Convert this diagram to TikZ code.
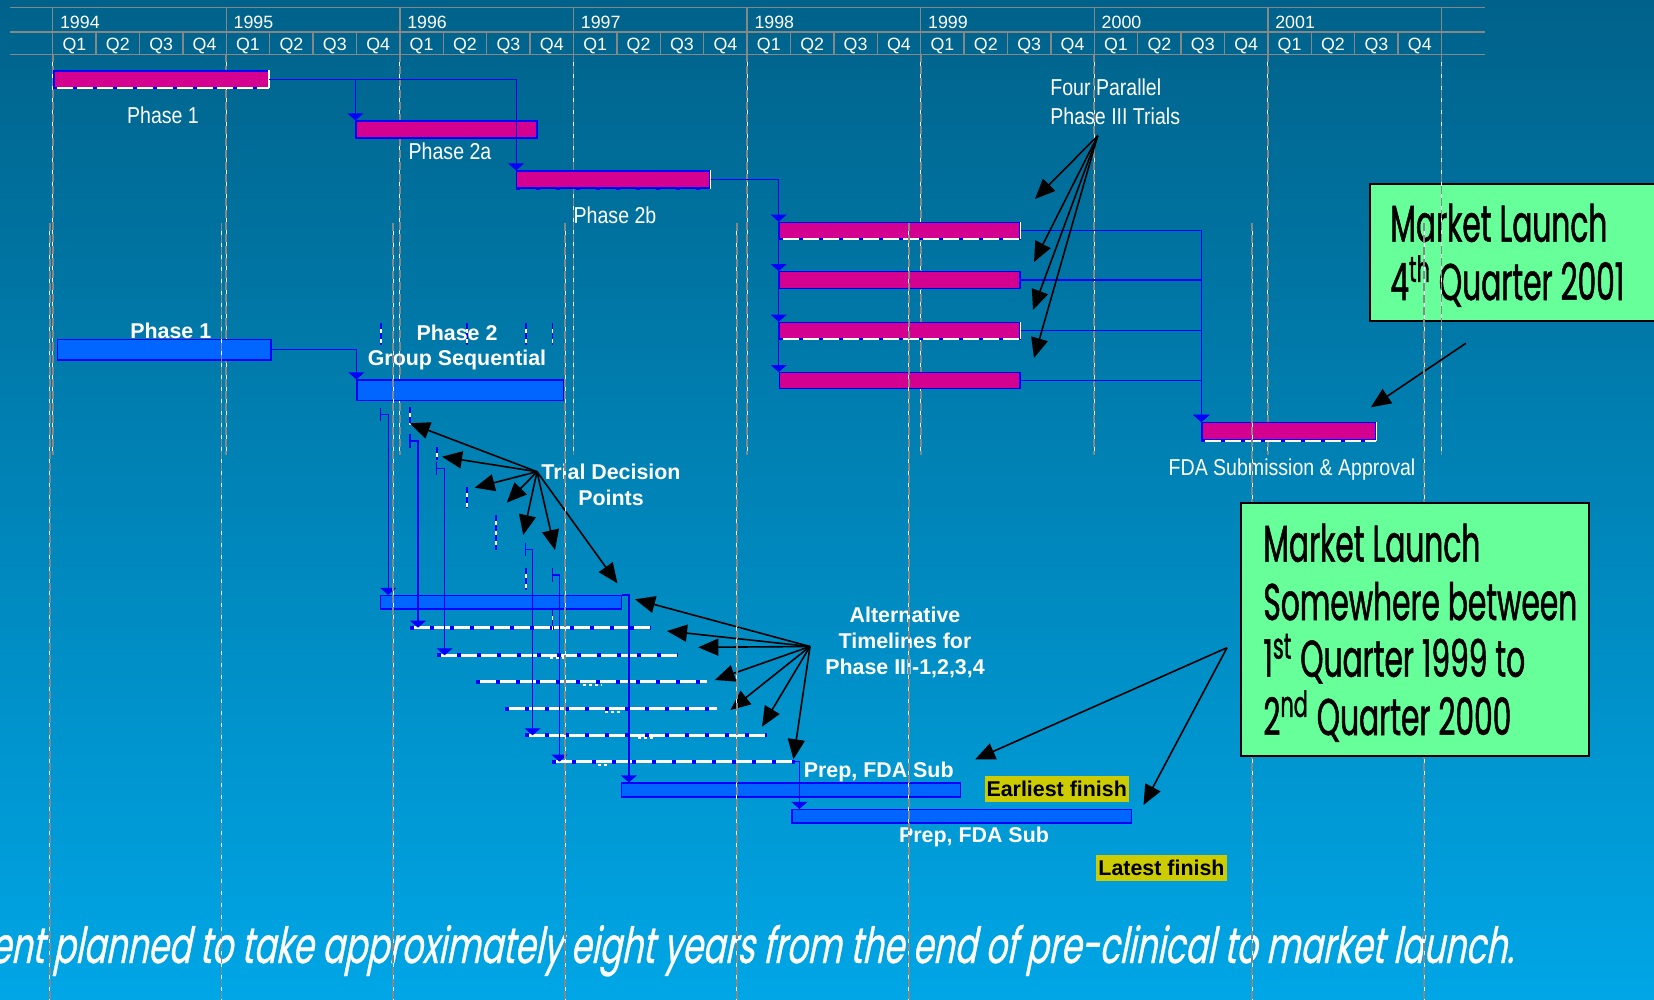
\documentclass[tikz,border=0pt]{standalone}
\usepackage{xcolor}
\usepackage{fontspec}
\usepackage{tikz}
\usetikzlibrary{positioning, calc, fit, arrows.meta}
\setmainfont{Liberation Sans}
\newfontfamily\narrowfont[FakeStretch=0.85]{Liberation Sans}
\newfontfamily\launchfont[FakeStretch=0.575,FakeBold=1]{Poppins}
\newfontfamily\mottofont[FakeStretch=0.66,FakeSlant=0.2,FakeBold=0.6]{Poppins}
\definecolor{bgtop}{RGB}{0,98,138}
\definecolor{bgbot}{RGB}{0,166,230}
\definecolor{phasepink}{RGB}{212,0,144}
\definecolor{barblue}{RGB}{0,102,255}
\definecolor{linkblue}{RGB}{0,0,255}
\definecolor{launchgreen}{RGB}{102,255,153}
\definecolor{finishyellow}{RGB}{204,204,0}
\definecolor{gridgray}{RGB}{135,135,135}

\begin{document}
\begin{tikzpicture}[x=0.5pt, y=-0.5pt,
		pinkbar/.style={draw=linkblue, line width=0.6pt, fill=phasepink, inner sep=0pt},
		bluebar/.style={draw=linkblue, line width=0.6pt, fill=barblue, inner sep=0pt},
		altbar/.style={inner sep=0pt},
		altline/.style={linkblue, line width=2pt, dash pattern=on 2pt off 8pt, preaction={draw=white, line width=1.5pt, solid}},
		trackline/.style={linkblue, line width=1pt, dash pattern=on 2pt off 8pt, preaction={draw=white, line width=1pt, solid}},
		tickline/.style={linkblue, line width=0.8pt, dash pattern=on 3pt off 2pt, preaction={draw=white, line width=0.8pt, solid}},
		linkplain/.style={linkblue, line width=0.6pt},
		link/.style={linkplain, -{Triangle[length=3.5pt,width=8pt]}},
		callout/.style={black, line width=0.8pt, -{Triangle[length=10pt,width=8.5pt]}},
		headline/.style={gridgray, line width=0.7pt},
		gridline/.style={gridgray, line width=0.9pt, dash pattern=on 4pt off 2pt, preaction={draw=white, line width=0.5pt, solid}},
		yearlbl/.style={anchor=base west, text=white, inner sep=0pt, font=\fontsize{8.9}{10}\selectfont},
		qlbl/.style={anchor=base, text=white, inner sep=0pt, font=\fontsize{8.9}{10}\selectfont},
		narrowlbl/.style={text=white, inner sep=0pt, font=\narrowfont\fontsize{11.5}{14.25}\selectfont},
		boldlbl/.style={text=white, inner sep=0pt, align=center, font=\bfseries\fontsize{10.7}{12.85}\selectfont},
		finishbox/.style={fill=finishyellow, text=black, inner sep=1pt, minimum height=12.85pt, font=\bfseries\fontsize{10.7}{12.85}\selectfont},
		launchbox/.style={draw=black, line width=1pt, fill=launchgreen, inner sep=0pt},
		launchtxt/.style={anchor=base west, text=black, inner sep=0pt, font=\launchfont\fontsize{25.8}{29}\selectfont}]
	\useasboundingbox (0,0) rectangle (1654,1000);
	\shade[top color=bgtop, bottom color=bgbot] (0,0) rectangle (1654,1000);

	\pgfmathsetmacro{\xzero}{52.7}
	\pgfmathsetmacro{\yearw}{173.6}
	\pgfmathsetmacro{\qw}{43.4}
	\pgfmathsetmacro{\lowzero}{49.6}
	\pgfmathsetmacro{\loww}{171.8}

	% launch box behind the grid
	\node[launchbox, fit={(1369.6,184) (1700,320.7)}] (launch1) {};
	\node[launchtxt] (launch1a) at (1390,241.7) {Market Launch};
	\node[launchtxt] (launch1b) at (1390,300) {4\textsuperscript{th} Quarter 2001};

	% footer line
	\node[anchor=base east, text=white, inner sep=0pt, font=\mottofont\fontsize{25}{25}\selectfont] (motto) at (1514,963) {ent planned to take approximately eight years from the end of pre-clinical to market launch.};

	% time scale
	\draw[headline] (10,7.5) -- (1485,7.5);
	\draw[headline] (10,32) -- (1485,32);
	\draw[headline] (10,54.5) -- (1485,54.5);
	\foreach \k in {0,...,8} {
		\draw[headline] ({\xzero+\k*\yearw},7.5) -- ({\xzero+\k*\yearw},54.5);
		\draw[gridline] ({\xzero+\k*\yearw},54.5) -- ({\xzero+\k*\yearw},455);
	}
	\foreach \q in {1,...,31}
		\draw[headline] ({\xzero+\q*\qw},32) -- ({\xzero+\q*\qw},54.5);
	\foreach \yr [count=\k from 0] in {1994,...,2001}
		\node[yearlbl] (y\yr) at ({\xzero+\k*\yearw+7},28.3) {\yr};
	\foreach \q in {0,...,31} {
		\pgfmathtruncatemacro{\qn}{mod(\q,4)+1}
		\node[qlbl] (q\q) at ({\xzero+(\q+0.5)*\qw},51) {Q\qn};
	}

	% phase bars, top plan
	\node[pinkbar, fit={(54,71) (268.5,87.5)}] (ph1) {};
	\node[pinkbar, fit={(356,121) (537,138)}] (ph2a) {};
	\node[pinkbar, fit={(516.7,171) (710,188)}] (ph2b) {};
	\node[pinkbar, fit={(779.3,222.3) (1020,238.3)}] (p3a) {};
	\node[pinkbar, fit={(779.3,271.7) (1020,288.3)}] (p3b) {};
	\node[pinkbar, fit={(779.3,322.3) (1020,338.3)}] (p3c) {};
	\node[pinkbar, fit={(779.3,372.7) (1020,388.7)}] (p3d) {};
	\node[pinkbar, fit={(1202,422.5) (1375.8,440)}] (fda) {};
	\foreach \b in {ph1,p3a,p3c,fda} {
		\draw[trackline] (\b.south west) -- (\b.south east);
		\draw[white, line width=0.8pt] (\b.south east) -- (\b.north east);
	}
	\draw[linkblue, line width=1pt, dash pattern=on 2pt off 8pt] (ph2b.south west) -- (ph2b.south east);
	\draw[white, line width=0.8pt] (ph2b.south east) -- (ph2b.north east);

	\draw[link] (ph1.east) -| (ph2a.north west);
	\draw[link] (ph1.east) -| (ph2b.north west);
	\foreach \b in {p3a,p3b,p3c,p3d} {
		\draw[link] (ph2b.east) -| (\b.north west);
		\draw[link] (\b.east) -| (fda.north west);
	}

	\node[narrowlbl] (lph1) at (163,115) {Phase 1};
	\node[narrowlbl] (lph2a) at (450,151) {Phase 2a};
	\node[narrowlbl] (lph2b) at (615,215) {Phase 2b};
	\node[narrowlbl, anchor=west, align=left] (lfour) at (1050,101.7) {Four Parallel\\Phase III Trials};
	\node[narrowlbl] (lfda) at (1292,470) {FDA Submission \& Approval};

	\coordinate (foursrc) at (1097.7,135.7);
	\foreach \x/\y [count=\i] in {1035/199, 1034/262, 1033/310, 1034/358}
		\coordinate (four\i) at (\x,\y);
	\foreach \i in {1,...,4}
		\draw[callout] (foursrc) -- (four\i);

	\coordinate (launch1src) at (1465.8,343.3);
	\coordinate (launch1tip) at (1370.8,407.3);
	\draw[callout] (launch1src) -- (launch1tip);

	% group sequential plan
	\node[bluebar, fit={(57.6,339.3) (271,360)}] (gs1) {};
	\node[bluebar, fit={(357,380) (563.4,400.7)}] (gs2) {};
	\node[bluebar, fit={(380.8,595.5) (621.5,609)}] (alt0) {};
	\node[altbar, fit={(410.4,627.7) (650.5,627.7)}] (alt1) {};
	\node[altbar, fit={(437,655.3) (677,655.3)}] (alt2) {};
	\node[altbar, fit={(476.4,681.7) (706.3,681.7)}] (alt3) {};
	\node[altbar, fit={(505.4,708.7) (716.6,708.7)}] (alt4) {};
	\node[altbar, fit={(525,735.3) (766.6,735.3)}] (alt5) {};
	\node[altbar, fit={(551.9,761.7) (794.3,761.7)}] (alt6) {};
	\node[bluebar, fit={(621.5,783) (960.8,797)}] (prep1) {};
	\node[bluebar, fit={(792,809.5) (1131.8,823)}] (prep2) {};
	\foreach \b in {alt1,alt2,alt3,alt4,alt5,alt6}
		\draw[altline] (\b.west) -- (\b.east);

	\draw[link] (gs1.east) -| (gs2.north west);

	% decision points
	\foreach \x/\ya/\yb in {380.7/323/345, 466.7/323/345, 525.7/323/345, 552.3/323/345, 410/407/425, 436.7/447/460, 466.7/487/508, 495.7/515/550, 525.7/568/590, 552.3/610/630}
		\draw[tickline] (\x,\ya) -- (\x,\yb);
	\coordinate (dp1) at (380.7,414.3);
	\coordinate (dp2) at (410,441);
	\coordinate (dp3) at (436.7,468.3);
	\coordinate (dp6) at (525.7,549.3);
	\coordinate (dp7) at (552.3,575);
	\foreach \d in {dp1,dp2,dp3,dp6,dp7}
		\draw[linkplain] ([yshift=3.3pt]\d) -- ([yshift=-3.3pt]\d);
	\draw[link] (dp1) -| ([xshift=4pt]alt0.north west);
	\draw[link] (dp2) -| ([xshift=4pt]alt1.west);
	\draw[link] (dp3) -| ([xshift=4pt]alt2.west);
	\draw[link] (dp6) -| ([xshift=4pt]alt5.west);
	\draw[link] (dp7) -| ([xshift=4pt]alt6.west);
	\draw[link] (alt0.north east) -| ([xshift=4pt]prep1.north west);
	\draw[link] (alt6.east) -| ([xshift=4pt]prep2.north west);
	\foreach \a/\b/\y in {550/567/658, 583/602/685, 605/622/712, 638/655/738, 598/607/765}
		\draw[white, line width=1pt, dash pattern=on 1.5pt off 1.5pt] (\a,\y) -- (\b,\y);

	\node[boldlbl] (lgs1) at (170.8,331) {Phase 1};
	\node[boldlbl] (lgs2) at (457,347.6) {Phase 2\\Group Sequential};
	\node[boldlbl] (ltdp) at (611,484.6) {Trial Decision\\Points};
	\node[boldlbl] (lalt) at (905,642.5) {Alternative\\Timelines for\\Phase III-1,2,3,4};
	\node[boldlbl] (lprep1) at (878.7,771.7) {Prep, FDA Sub};
	\node[boldlbl] (lprep2) at (974,836.5) {Prep, FDA Sub};
	\node[finishbox] (early) at (1056.7,788.8) {Earliest finish};
	\node[finishbox] (late) at (1161.5,868) {Latest finish};

	\coordinate (tdsrc) at (537,471.7);
	\foreach \x/\y [count=\i] in {409.8/423.3, 442/456.7, 474.6/487.7, 506.7/502.7, 523.2/535, 555/550, 617.4/583.3}
		\coordinate (td\i) at (\x,\y);
	\coordinate (altsrc) at (810,646.5);
	\foreach \x/\y [count=\i] in {635/599.3, 667/631, 698.3/647.3, 714.8/680, 730.4/710, 762/726.7, 793.4/759.3}
		\coordinate (at\i) at (\x,\y);
	\foreach \i in {1,...,7} {
		\draw[callout] (tdsrc) -- (td\i);
		\draw[callout] (altsrc) -- (at\i);
	}

	% grid of the lower plan
	\foreach \k in {0,1,2,3,4,5,7,8}
		\draw[gridline] ({\lowzero+\k*\loww},223) -- ({\lowzero+\k*\loww},1000);

	% launch window
	\node[launchbox, fit={(1241.3,503.3) (1589,756)}] (launch2) {};
	\node[launchtxt] (launch2a) at (1263,561.7) {Market Launch};
	\node[launchtxt] (launch2b) at (1263,620) {Somewhere between};
	\node[launchtxt] (launch2c) at (1263,676.7) {1\textsuperscript{st} Quarter 1999 to};
	\node[launchtxt] (launch2d) at (1263,735) {2\textsuperscript{nd} Quarter 2000};
	\coordinate (launch2src) at (1227,647.7);
	\coordinate (launch2tipa) at (975,759.5);
	\coordinate (launch2tipb) at (1143.5,805);
	\draw[callout] (launch2src) -- (launch2tipa);
	\draw[callout] (launch2src) -- (launch2tipb);
\end{tikzpicture}
\end{document}
